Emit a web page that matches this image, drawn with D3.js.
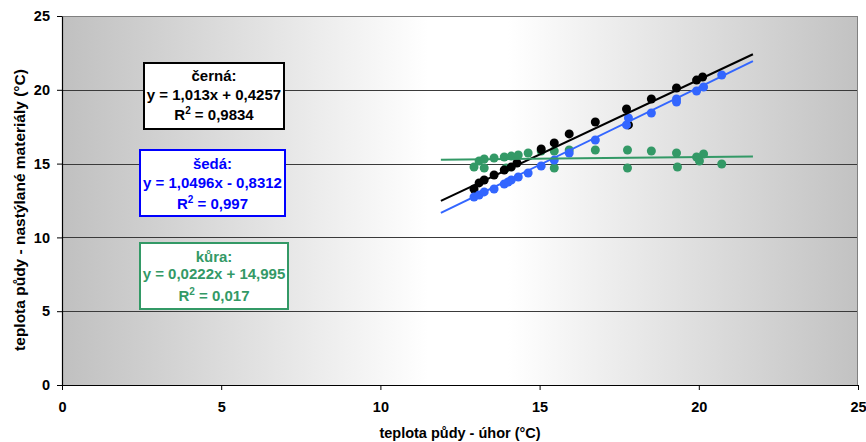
<!DOCTYPE html>
<html>
<head>
<meta charset="utf-8">
<script src="https://cdn.jsdelivr.net/npm/d3@7"></script>
<style>
  html, body { margin: 0; padding: 0; background: #ffffff; }
  svg { display: block; }
  text { font-family: "Liberation Sans", Arial, sans-serif; font-weight: bold; }
</style>
</head>
<body>
<div id="chart"></div>
<script>
// ---- data ----
const xTicks = [0, 5, 10, 15, 20, 25];
const yTicks = [0, 5, 10, 15, 20, 25];
const xTitle = "teplota půdy - úhor (°C)";
const yTitle = "teplota půdy - nastýlané materiály (°C)";

const cernaPts = [
  [12.94, 13.28], [13.10, 13.69], [13.26, 13.89], [13.57, 14.23], [13.89, 14.57],
  [14.11, 14.77], [14.29, 15.04], [15.05, 15.99], [15.46, 16.40], [15.93, 17.01],
  [16.75, 17.82], [17.73, 18.70], [17.79, 17.62], [18.51, 19.38], [19.30, 20.12],
  [19.93, 20.66], [20.12, 20.87]
];
const sedaPts = [
  [12.94, 12.74], [13.10, 12.87], [13.26, 13.08], [13.57, 13.28], [13.89, 13.62],
  [14.01, 13.75], [14.11, 13.89], [14.33, 14.09], [14.64, 14.36], [15.05, 14.84],
  [15.46, 15.24], [15.93, 15.72], [16.75, 16.60], [17.73, 17.62], [17.79, 18.09],
  [18.51, 18.43], [19.30, 19.38], [19.30, 19.17], [19.93, 19.92], [20.15, 20.19],
  [20.72, 21.00]
];
const kuraPts = [
  [12.94, 14.77], [13.10, 15.18], [13.26, 15.31], [13.26, 14.70], [13.57, 15.38],
  [13.89, 15.45], [13.95, 14.70], [14.11, 15.51], [14.33, 15.58], [14.64, 15.72],
  [15.05, 15.85], [15.46, 15.85], [15.46, 14.70], [15.93, 15.92], [16.75, 15.92],
  [17.76, 15.92], [17.76, 14.70], [18.51, 15.85], [19.30, 15.72], [19.33, 14.77],
  [19.93, 15.45], [20.02, 15.18], [20.15, 15.65], [20.72, 14.97]
];
// regression coefficients [slope, intercept]
const cernaFit = [1.013, 0.4257];
const sedaFit = [1.0496, -0.8312];
const kuraFit = [0.0222, 14.995];
const trendRange = [11.9, 21.7];

const cernaLabel = ["černá:", "y = 1,013x + 0,4257", "R² = 0,9834"];
const sedaLabel = ["šedá:", "y = 1,0496x - 0,8312", "R² = 0,997"];
const kuraLabel = ["kůra:", "y = 0,0222x + 14,995", "R² = 0,017"];

// ---- layout ----
const W = 866, H = 442;
const margin = { left: 62, right: 8, top: 16, bottom: 57 };
const iw = W - margin.left - margin.right;
const ih = H - margin.top - margin.bottom;

const svg = d3.select("#chart").append("svg").attr("width", W).attr("height", H);

const defs = svg.append("defs");
const grad = defs.append("linearGradient").attr("id", "bg").attr("x1", "0").attr("x2", "1").attr("y1", "0").attr("y2", "0");
grad.append("stop").attr("offset", "0").attr("stop-color", "#c0c0c0");
grad.append("stop").attr("offset", "0.46").attr("stop-color", "#ffffff");
grad.append("stop").attr("offset", "0.56").attr("stop-color", "#ffffff");
grad.append("stop").attr("offset", "1").attr("stop-color", "#c2c2c2");

const x = d3.scaleLinear().domain([0, 25]).range([0, iw]);
const y = d3.scaleLinear().domain([0, 25]).range([ih, 0]);

const g = svg.append("g").attr("transform", `translate(${margin.left},${margin.top})`);

g.append("rect").attr("width", iw).attr("height", ih).attr("fill", "url(#bg)");

// gridlines
g.selectAll(".grid").data(yTicks.filter(d => d > 0 && d < 25)).enter().append("line")
  .attr("x1", 0).attr("x2", iw)
  .attr("y1", d => Math.round(y(d)) + 0.5).attr("y2", d => Math.round(y(d)) + 0.5)
  .attr("stroke", "#3a3a3a").attr("stroke-width", 1);

// top & right border
g.append("line").attr("x1", 0).attr("x2", iw).attr("y1", 0.5).attr("y2", 0.5).attr("stroke", "#808080");
g.append("line").attr("x1", iw - 0.5).attr("x2", iw - 0.5).attr("y1", 0).attr("y2", ih).attr("stroke", "#808080");

// axes
const xAxis = g.append("g").attr("transform", `translate(0,${ih})`)
  .call(d3.axisBottom(x).tickValues(xTicks).tickSize(5).tickPadding(12).tickSizeOuter(0));
const yAxis = g.append("g")
  .call(d3.axisLeft(y).tickValues(yTicks).tickSize(5).tickPadding(7).tickSizeOuter(0));
[xAxis, yAxis].forEach(a => {
  a.select(".domain").attr("stroke", "#000").attr("stroke-width", 1.2);
  a.selectAll(".tick line").attr("stroke", "#000");
  a.selectAll(".tick text").attr("fill", "#000").style("font-size", "14.5px").style("font-weight", "bold")
    .style("font-family", '"Liberation Sans", Arial, sans-serif');
});

// points
const series = [
  { pts: kuraPts, color: "#339966" },
  { pts: cernaPts, color: "#000000" },
  { pts: sedaPts, color: "#3366ff" }
];
series.forEach(s => {
  g.append("g").selectAll("circle").data(s.pts).enter().append("circle")
    .attr("cx", d => x(d[0])).attr("cy", d => y(d[1])).attr("r", 4.5)
    .attr("fill", s.color);
});

// trendlines
const fits = [
  { fit: cernaFit, color: "#000000" },
  { fit: sedaFit, color: "#3366ff" },
  { fit: kuraFit, color: "#339966" }
];
fits.forEach(f => {
  g.append("line")
    .attr("x1", x(trendRange[0])).attr("y1", y(f.fit[0] * trendRange[0] + f.fit[1]))
    .attr("x2", x(trendRange[1])).attr("y2", y(f.fit[0] * trendRange[1] + f.fit[1]))
    .attr("stroke", f.color).attr("stroke-width", 2);
});

// labels (boxes)
const boxes = [
  { lines: cernaLabel, color: "#000000", border: "#000000", box: [143, 62, 142, 68], ys: [81, 100, 120] },
  { lines: sedaLabel, color: "#0000ff", border: "#0000ff", box: [139, 149, 147, 68], ys: [169, 188, 209] },
  { lines: kuraLabel, color: "#339966", border: "#339966", box: [139, 242, 150, 68], ys: [262, 279, 301] }
];
boxes.forEach(b => {
  svg.append("rect").attr("x", b.box[0] + 1).attr("y", b.box[1] + 1)
    .attr("width", b.box[2] - 2).attr("height", b.box[3] - 2)
    .attr("fill", "#ffffff").attr("stroke", b.border).attr("stroke-width", 2);
  const cx = b.box[0] + b.box[2] / 2;
  b.lines.forEach((t, i) => {
    const txt = svg.append("text").attr("x", cx).attr("y", b.ys[i]).attr("text-anchor", "middle")
      .attr("fill", b.color).style("font-size", "15px");
    if (t.startsWith("R²")) {
      txt.append("tspan").text("R");
      txt.append("tspan").attr("dy", -6).style("font-size", "10px").text("2");
      txt.append("tspan").attr("dy", 6).text(t.slice(2));
    } else {
      txt.text(t);
    }
  });
});

// axis titles
svg.append("text").attr("x", margin.left + iw / 2).attr("y", 438).attr("text-anchor", "middle")
  .style("font-size", "14.5px").attr("fill", "#000").text(xTitle);
svg.append("text").attr("transform", `translate(25,210) rotate(-90)`).attr("text-anchor", "middle")
  .style("font-size", "15.5px").attr("fill", "#000").text(yTitle);
</script>
</body>
</html>
